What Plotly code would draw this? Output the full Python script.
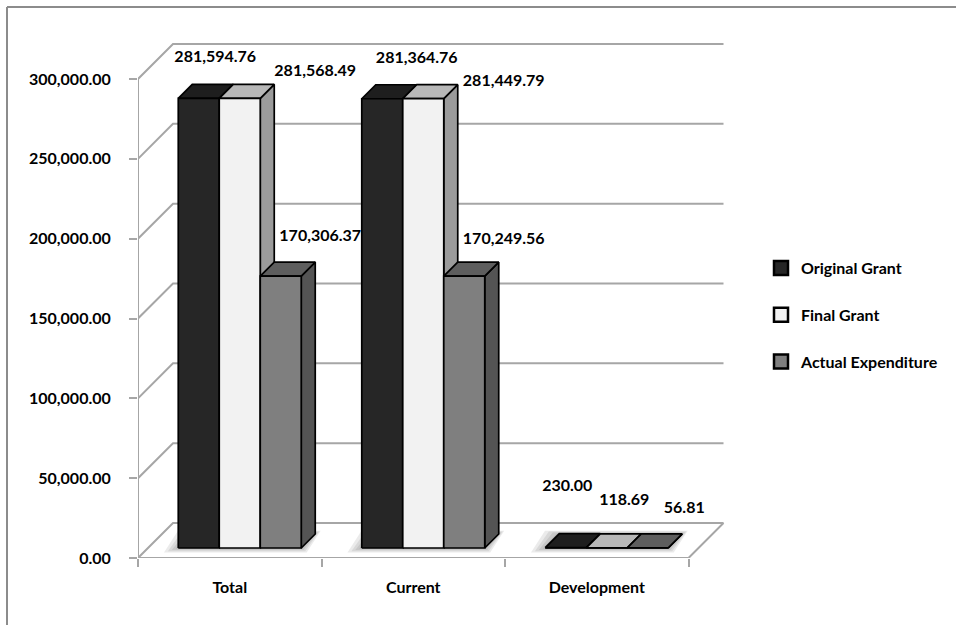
import plotly.graph_objects as go

# ---------------- data ----------------
categories = ["Total", "Current", "Development"]
original_grant = [281594.76, 281364.76, 230.00]
final_grant = [281568.49, 281449.79, 118.69]
actual_expenditure = [170306.37, 170249.56, 56.81]
series_names = ["Original Grant", "Final Grant", "Actual Expenditure"]
y_tick_values = [0, 50000, 100000, 150000, 200000, 250000, 300000]

# ---------------- styles / geometry (pixels) ----------------
W, H = 956, 625
M_L, M_R, M_T, M_B = 138, 211, 20, 67
PX_CAT = 183.5                 # px per category
PX_VAL = 79.83 / 50000.0       # px per value unit
FLOOR_DEPTH = 35               # oblique depth of the floor (px)
BAR_D0, BAR_D1 = 10, 24        # bar front / back depth (px)
BAR_W = 0.2234                 # bar width in category units
FONT = "Lato"
FS = 16
front_cols = ["#262626", "#f2f2f2", "#7f7f7f"]
top_cols = ["#1e1e1e", "#b8b8b8", "#5e5e5e"]
side_cols = ["#1a1a1a", "#9b9b9b", "#545454"]
GRID = "#a6a6a6"
# data-label offsets (px) relative to the bar's front-top-left corner
label_offsets = [
    [(37, -40), (55, -40), (22, -61)],
    [(96, -26), (101, -17), (38, -47)],
    [(60, -39), (60, -36), (57, -39)],
]

plot_w = W - M_L - M_R
plot_h = H - M_T - M_B


def shift(x, y, d):
    """Oblique projection: move a point d px back in depth (up-right)."""
    return x + d / PX_CAT, y + d / PX_VAL


fig = go.Figure()

# ---------------- walls / floor grid ----------------
gx, gy = [], []
n_cat = len(categories)
for v in y_tick_values:
    bx0, by0 = shift(0, v, FLOOR_DEPTH)
    bx1, by1 = shift(n_cat, v, FLOOR_DEPTH)
    gx += [0, bx0, bx1, None]
    gy += [v, by0, by1, None]
# floor right edge
rx, ry = shift(n_cat, 0, FLOOR_DEPTH)
gx += [n_cat, rx, None]
gy += [0, ry, None]
# front value axis line and category axis line
gx += [0, 0, None, 0, n_cat, None]
gy += [0, y_tick_values[-1], None, 0, 0, None]
fig.add_trace(go.Scatter(x=gx, y=gy, mode="lines", line=dict(color=GRID, width=2),
                         hoverinfo="skip", showlegend=False))

series_vals = [original_grant, final_grant, actual_expenditure]
n_ser = len(series_vals)
side_gap = (1 - n_ser * BAR_W) / 2

# ---------------- floor shadows ----------------
for ci in range(n_cat):
    xl = ci + side_gap
    xr = xl + n_ser * BAR_W
    for k, grow in enumerate([11, 8, 5, 2]):
        gxp = grow / PX_CAT
        gyp = grow / PX_VAL
        p = [shift(xl - gxp * 1.3, -gyp * 0.4, BAR_D0),
             shift(xr + gxp * 0.5, -gyp * 0.4, BAR_D0),
             shift(xr + gxp * 0.5, gyp * 0.3, BAR_D1),
             shift(xl - gxp * 1.3, gyp * 0.3, BAR_D1)]
        fig.add_trace(go.Scatter(x=[q[0] for q in p] + [p[0][0]], y=[q[1] for q in p] + [p[0][1]],
                                 mode="lines", fill="toself", line=dict(width=0),
                                 fillcolor="rgba(0,0,0,0.08)", hoverinfo="skip", showlegend=False))


def poly(points, fill):
    xs = [p[0] for p in points] + [points[0][0]]
    ys = [p[1] for p in points] + [points[0][1]]
    fig.add_trace(go.Scatter(x=xs, y=ys, mode="lines", fill="toself", fillcolor=fill,
                             line=dict(color="#000000", width=1.7), hoverinfo="skip",
                             showlegend=False))


# ---------------- bars ----------------
label_x = [[] for _ in range(n_ser)]
label_y = [[] for _ in range(n_ser)]
for ci in range(n_cat):
    for si in range(n_ser):
        v = series_vals[si][ci]
        xl = ci + side_gap + si * BAR_W
        xr = xl + BAR_W
        side = [shift(xr, 0, BAR_D0), shift(xr, 0, BAR_D1), shift(xr, v, BAR_D1), shift(xr, v, BAR_D0)]
        top = [shift(xl, v, BAR_D0), shift(xr, v, BAR_D0), shift(xr, v, BAR_D1), shift(xl, v, BAR_D1)]
        front = [shift(xl, 0, BAR_D0), shift(xr, 0, BAR_D0), shift(xr, v, BAR_D0), shift(xl, v, BAR_D0)]
        poly(side, side_cols[si])
        poly(top, top_cols[si])
        poly(front, front_cols[si])
        fx, fy = shift(xl, v, BAR_D0)
        dx, dy = label_offsets[si][ci]
        label_x[si].append(fx + dx / PX_CAT)
        label_y[si].append(fy - dy / PX_VAL)

# ---------------- data labels ----------------
for si in range(n_ser):
    fig.add_trace(go.Scatter(
        x=label_x[si], y=label_y[si], mode="text",
        text=[f"{v:,.2f}" for v in series_vals[si]],
        textposition="middle center",
        textfont=dict(family=FONT, size=FS, color="#000000", weight="bold"),
        cliponaxis=False, hoverinfo="skip", showlegend=False))

# ---------------- legend entries ----------------
for si in range(n_ser):
    fig.add_trace(go.Scatter(
        x=[None], y=[None], mode="markers", name=series_names[si],
        legendgroup=series_names[si],
        marker=dict(symbol="square", size=14, color=front_cols[si],
                    line=dict(color="#000000", width=2.5))))

# ---------------- frame (top and left border) ----------------
def px_to_paper_x(px):
    return (px - M_L) / plot_w


def px_to_paper_y(py):
    return (H - M_B - py) / plot_h


fig.add_shape(type="line", xref="paper", yref="paper",
              x0=px_to_paper_x(7), y0=px_to_paper_y(7), x1=px_to_paper_x(W + 5), y1=px_to_paper_y(7),
              line=dict(color="#8c8c8c", width=2))
fig.add_shape(type="line", xref="paper", yref="paper",
              x0=px_to_paper_x(7), y0=px_to_paper_y(7), x1=px_to_paper_x(7), y1=px_to_paper_y(H + 5),
              line=dict(color="#8c8c8c", width=2))

fig.update_layout(
    width=W, height=H, autosize=False,
    margin=dict(l=M_L, r=M_R, t=M_T, b=M_B, pad=0),
    paper_bgcolor="#ffffff", plot_bgcolor="#ffffff",
    font=dict(family=FONT, size=FS, color="#000000"),
    showlegend=True,
    legend=dict(
        xref="container", yref="container", x=761 / W, y=1 - 251 / H,
        xanchor="left", yanchor="top",
        font=dict(family=FONT, size=FS, color="#000000", weight="bold"),
        tracegroupgap=23, traceorder="grouped", itemwidth=30,
        bgcolor="rgba(0,0,0,0)"),
    xaxis=dict(
        range=[0, plot_w / PX_CAT], showgrid=False, zeroline=False, showline=False,
        tickmode="array", tickvals=[i + 0.5 for i in range(n_cat)], ticktext=categories,
        ticks="", ticklabelstandoff=18,
        tickfont=dict(family=FONT, size=FS, color="#000000", weight="bold"),
        minor=dict(tickmode="array", tickvals=list(range(n_cat + 1)), ticks="outside",
                   ticklen=8, tickwidth=2, tickcolor=GRID, showgrid=False),
        fixedrange=True),
    yaxis=dict(
        range=[0, plot_h / PX_VAL], showgrid=False, zeroline=False, showline=False,
        tickmode="array", tickvals=y_tick_values, tickformat=",.2f",
        ticks="outside", ticklen=8, tickwidth=2, tickcolor=GRID, ticklabelstandoff=15,
        tickfont=dict(family=FONT, size=FS, color="#000000", weight="bold"),
        fixedrange=True),
)

fig.write_html("out.html")
